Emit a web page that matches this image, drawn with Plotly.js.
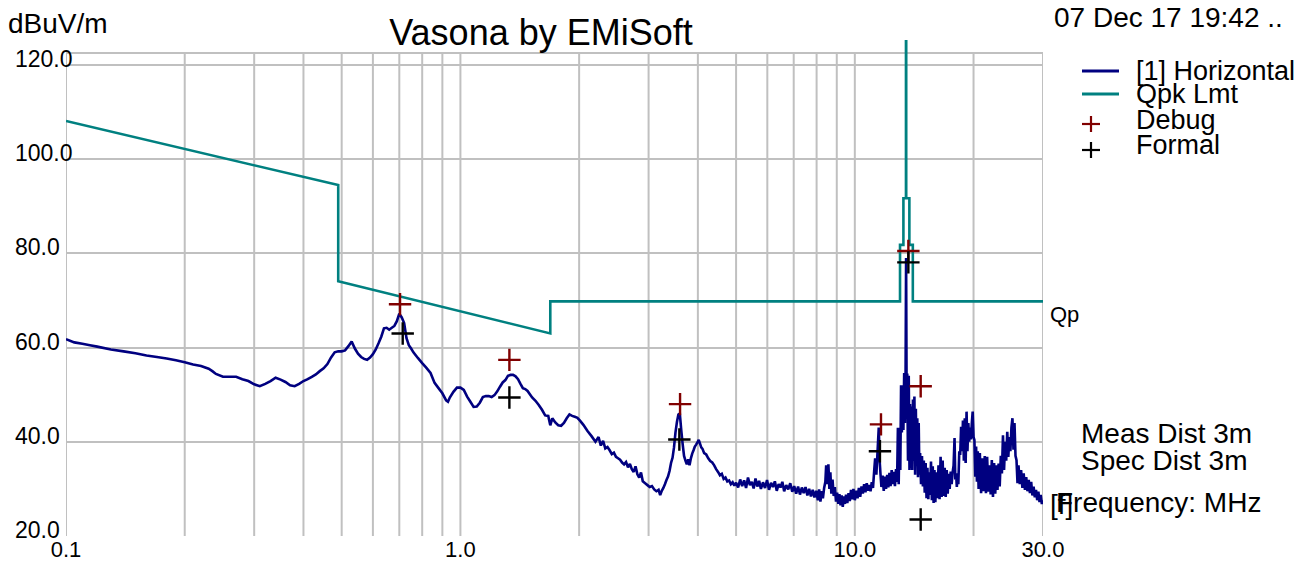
<!DOCTYPE html>
<html>
<head>
<meta charset="utf-8">
<script src="https://cdn.plot.ly/plotly-3.0.1.min.js"></script>
<style>
  html, body { margin: 0; padding: 0; background: #ffffff; }
  #chart { width: 1301px; height: 562px; }
</style>
</head>
<body>
<div id="chart"></div>
<script>
// ---------------- data ----------------
const freqMHz = [
  0.100,0.105,0.110,0.115,0.120,0.130,0.140,0.150,0.160,0.170,0.180,0.190,0.200,0.210,0.220,0.230,0.235,0.240,0.250,0.260,
  0.270,0.280,0.290,0.300,0.310,0.320,0.330,0.340,0.350,0.360,0.370,0.380,0.390,0.400,0.410,0.420,0.430,0.440,0.450,0.460,
  0.470,0.480,0.490,0.500,0.510,0.520,0.530,0.540,0.550,0.560,0.570,0.580,0.590,0.600,0.610,0.620,0.630,0.640,0.650,0.660,
  0.670,0.680,0.690,0.700,0.710,0.720,0.730,0.740,0.750,0.760,0.780,0.800,0.820,0.840,0.860,0.880,0.900,0.920,0.930,0.940,
  0.960,0.980,1.000,1.020,1.040,1.060,1.080,1.100,1.120,1.140,1.160,1.180,1.200,1.220,1.240,1.260,1.280,1.300,1.320,1.340,
  1.360,1.380,1.400,1.420,1.440,1.460,1.480,1.500,1.520,1.550,1.580,1.610,1.640,1.670,1.690,1.710,1.740,1.770,1.800,1.830,
  1.860,1.890,1.920,1.950,1.980,2.010,2.050,2.100,2.150,
  2.20,2.24,2.27,2.30,2.33,2.36,2.39,2.42,2.45,2.48,2.51,2.54,2.57,2.60,2.63,2.66,2.69,2.72,2.75,2.78,
  2.81,2.84,2.87,2.90,2.94,2.98,3.02,3.06,3.10,3.14,3.18,3.21,3.24,3.27,3.30,3.33,3.36,3.39,3.42,3.45,
  3.48,3.51,3.54,3.57,3.60,3.63,3.66,3.69,3.72,3.75,3.78,3.81,3.84,3.87,3.90,3.93,3.96,3.99,4.02,4.05,
  4.08,4.11,4.15,4.20,4.25,4.30,4.35,4.40,4.45,4.50,4.55,4.60,4.65,4.70,4.75,4.80,4.85,4.90,4.95,5.00,
  5.06,5.12,5.18,5.24,5.30,5.36,5.42,5.48,5.54,5.60,5.66,5.72,5.78,5.85,5.92,5.99,6.06,6.13,6.20,6.27,
  6.34,6.41,6.48,6.55,6.62,6.70,6.78,6.86,6.94,7.02,7.10,7.18,7.26,7.34,7.42,7.50,7.58,7.66,7.74,7.82,
  7.90,7.98,8.06,8.12,8.18,8.24,8.30,8.36,8.42,8.46,8.52,8.57,8.62,8.67,8.72,8.78,8.84,8.90,8.96,9.02,
  9.08,9.14,9.20,9.26,9.32,9.38,9.44,9.50,9.57,9.64,9.71,9.78,9.85,9.92,10.00,10.08,10.16,10.24,10.32,10.40,
  10.48,10.56,10.64,10.72,10.80,10.88,10.96,11.04,11.12,11.20,11.26,11.34,11.42,11.50,11.56,11.62,11.68,11.76,11.84,11.92,
  12.00,12.08,12.16,12.24,12.32,12.40,12.48,12.56,12.64,12.72,12.80,12.86,12.92,12.98,13.04,13.10,13.16,13.22,13.28,13.34,
  13.40,13.45,13.49,13.53,13.58,13.64,13.70,13.76,13.80,13.86,13.92,13.98,14.04,14.10,14.16,14.22,14.28,14.34,14.40,14.46,
  14.52,14.58,14.64,14.72,14.80,14.88,14.96,15.04,15.12,15.20,15.28,15.36,15.44,15.52,15.60,15.68,15.76,15.84,15.92,16.00,
  16.10,16.20,16.30,16.40,16.50,16.60,16.70,16.80,16.90,17.00,17.10,17.20,17.30,17.40,17.50,17.60,17.70,17.80,17.90,17.98,
  18.06,18.14,18.22,18.30,18.40,18.50,18.60,18.70,18.80,18.90,19.00,19.10,19.20,19.30,19.40,19.50,19.60,19.70,19.80,19.90,
  20.00,20.10,20.20,20.30,20.40,20.50,20.60,20.75,20.90,21.05,21.20,21.35,21.50,21.65,21.80,21.95,22.10,22.25,22.40,22.55,
  22.70,22.85,23.00,23.15,23.30,23.45,23.60,23.75,23.90,24.05,24.20,24.35,24.50,24.65,24.80,24.95,25.10,25.25,25.40,25.55,
  25.70,25.85,26.00,26.20,26.40,26.60,26.80,27.00,27.20,27.40,27.60,27.80,28.00,28.20,28.40,28.60,28.80,29.00,29.20,29.40,
  29.60,29.80,30.00
];
const levelDbuv = [
  61.8,61.1,60.8,60.5,60.2,59.6,59.2,58.8,58.3,58.0,57.7,57.3,56.9,56.4,56.1,55.5,55.0,54.4,53.8,53.8,
  53.8,53.3,52.9,52.2,51.8,52.3,52.9,53.6,53.2,52.7,52.0,51.8,52.3,52.9,53.3,53.8,54.3,55.0,55.6,56.5,
  57.9,59.0,59.2,59.2,59.4,60.3,61.3,59.8,58.7,58.0,57.6,57.4,57.9,58.6,59.6,60.9,62.3,64.1,64.2,63.8,
  64.2,64.6,65.6,67.2,66.4,65.2,62.0,60.5,59.8,59.0,57.8,56.7,55.7,54.6,52.5,51.4,50.3,48.8,48.5,49.4,
  50.6,51.5,51.5,51.0,49.6,48.5,47.4,47.5,48.3,49.5,49.7,49.7,49.5,49.9,50.7,51.7,52.6,53.1,54.0,54.2,
  54.2,53.9,53.3,52.3,51.4,51.2,50.8,50.1,49.4,48.7,47.8,46.8,45.6,45.5,43.5,45.0,44.1,43.5,43.4,44.0,
  45.0,45.8,45.5,45.3,45.1,44.5,43.6,42.3,41.2,
  40.0,41.0,39.2,40.2,38.6,38.9,38.2,37.4,37.7,36.8,36.5,36.2,35.6,35.2,35.7,34.6,35.3,34.2,33.6,34.8,
  33.1,32.4,33.5,31.6,31.2,30.8,30.4,30.6,29.9,29.5,29.8,28.7,29.6,30.2,31.0,31.9,32.6,33.8,35.5,36.6,
  38.8,42.0,44.2,45.8,46.0,42.5,39.5,37.0,36.0,35.2,36.3,35.0,36.5,37.5,38.2,39.0,39.4,39.9,40.4,39.6,
  38.8,38.5,37.6,37.3,36.5,35.9,35.6,35.0,34.2,33.6,32.9,33.2,32.1,32.4,31.6,31.8,31.0,31.4,30.7,31.3,
  30.3,32.0,30.6,31.8,30.2,32.4,30.8,31.5,30.1,32.2,30.5,31.7,30.0,31.4,30.2,31.9,29.8,31.3,30.4,31.6,
  29.6,31.0,30.3,31.5,29.5,30.8,29.9,31.2,29.4,30.6,29.0,30.5,28.8,30.3,29.1,30.4,28.6,30.0,28.4,29.8,
  28.2,29.6,27.6,29.9,27.3,29.5,28.0,30.2,31.5,35.0,31.0,35.2,30.0,33.5,29.0,32.0,28.5,30.4,27.3,29.2,
  26.8,28.9,26.5,28.6,26.2,28.4,26.8,28.8,27.0,29.1,27.4,29.8,27.8,30.0,27.6,29.6,28.0,30.2,28.3,30.5,
  29.0,31.0,29.3,31.2,29.6,30.8,29.5,31.4,30.2,34.0,36.5,33.0,38.0,43.0,36.0,33.0,30.4,32.8,29.6,32.6,
  30.0,33.0,30.3,33.4,30.6,34.0,31.0,33.6,30.6,34.2,31.5,43.0,31.0,43.0,34.0,52.0,42.0,52.0,42.5,54.6,
  44.0,54.6,79.0,50.0,54.5,36.0,54.0,34.0,48.0,34.5,47.5,34.0,49.0,36.0,49.6,33.0,47.0,35.0,45.0,32.5,
  44.0,33.0,37.6,31.0,37.0,30.5,36.0,29.2,35.5,28.0,34.5,27.8,33.5,28.7,35.8,27.6,34.8,27.0,34.0,27.2,
  33.5,28.0,35.0,27.8,36.8,28.3,36.0,28.5,34.5,28.3,34.0,29.0,33.2,30.0,33.7,31.0,33.5,35.0,40.8,32.0,
  33.3,30.4,33.0,31.0,38.0,37.2,43.2,38.0,44.5,36.0,45.0,35.5,46.4,38.0,44.0,40.0,43.0,40.5,44.0,46.4,
  41.0,40.4,32.6,39.0,31.5,38.0,30.0,37.6,29.1,36.5,29.5,37.0,29.1,36.8,29.4,35.0,28.8,36.1,28.3,35.5,
  29.0,35.0,29.8,35.4,30.5,37.0,33.3,41.4,34.0,40.0,36.0,42.1,36.8,41.0,38.0,43.0,45.0,38.3,44.0,37.0,
  36.1,31.2,35.0,31.0,34.0,30.2,33.3,29.8,32.5,29.5,31.9,29.1,31.5,28.6,30.5,28.2,29.8,27.6,29.4,27.2,
  28.7,26.8,27.6
];

// Quasi-peak limit line
const limitFreqMHz = [0.1, 0.49, 0.49, 1.69, 1.69, 13.02, 13.02, 13.28, 13.28, 13.48, 13.48, 13.50, 13.50, 13.75, 13.75, 14.03, 14.03, 30.0];
const limitDbuv    = [108.1, 94.5, 74.1, 63.0, 69.8, 69.8, 81.8, 81.8, 91.7, 91.7, 126.0, 126.0, 91.7, 91.7, 81.8, 81.8, 69.8, 69.8];

// Peak markers
const debugFreqMHz  = [0.703, 1.331, 3.605, 11.65, 13.67, 14.69];
const debugDbuv     = [69.2, 57.4, 48.0, 43.7, 80.5, 51.8];
const formalFreqMHz = [0.714, 1.331, 3.59, 11.58, 13.67, 14.69];
const formalDbuv    = [63.0, 49.4, 40.5, 38.0, 78.1, 23.5];

// Axes
const xTickVals = [0.1, 1, 10, 30];
const xTickText = ['0.1', '1.0', '10.0', '30.0'];
const yTickVals = [20, 40, 60, 80, 100, 120];
const yTickText = ['20.0', '40.0', '60.0', '80.0', '100.0', '120.0'];
const gridFreqs = [0.1,0.2,0.3,0.4,0.5,0.6,0.7,0.8,0.9,1,2,3,4,5,6,7,8,9,10,20,30];

// Texts
const titleText = 'Vasona by EMiSoft';
const unitText = 'dBuV/m';
const dateText = '07 Dec 17 19:42 ..';
const legendNames = ['[1] Horizontal', 'Qpk Lmt', 'Debug', 'Formal'];
const sideNotes = ['Meas Dist 3m', 'Spec Dist 3m'];
const limitTag = 'Qp';
const freqTag = 'Frequency: MHz';
const freqTagPrefix = '[f]';

// ---------------- styling ----------------
const FONT = 'Liberation Sans, Arial, sans-serif';
const NAVY = '#000080';
const TEAL = '#008080';
const GRID = '#c0c0c0';
const DEBUG = '#800000';
const FORMAL = '#000000';

const Y_RANGE = [20, 125.3];
const Y_TOP_BORDER = 122.55;

// pixel helpers for paper coordinates (plot area: x 66..1043, y 40..536)
const PX = v => (v - 66) / 977;
const PY = v => (536 - v) / 496;

const traces = [
  {
    x: freqMHz, y: levelDbuv, type: 'scatter', mode: 'lines', name: legendNames[0],
    line: { color: NAVY, width: 2.6, simplify: false }, showlegend: false, hoverinfo: 'x+y'
  },
  {
    x: limitFreqMHz, y: limitDbuv, type: 'scatter', mode: 'lines', name: legendNames[1],
    line: { color: TEAL, width: 2.6, simplify: false }, showlegend: false
  },
  {
    x: debugFreqMHz, y: debugDbuv, type: 'scatter', mode: 'markers', name: legendNames[2],
    marker: { symbol: 'cross-thin', size: 16, line: { color: DEBUG, width: 2.4 }, color: DEBUG },
    showlegend: false, cliponaxis: false
  },
  {
    x: formalFreqMHz, y: formalDbuv, type: 'scatter', mode: 'markers', name: legendNames[3],
    marker: { symbol: 'cross-thin', size: 16, line: { color: FORMAL, width: 2.4 }, color: FORMAL },
    showlegend: false, cliponaxis: false
  }
];

const shapes = [];
gridFreqs.forEach(f => {
  shapes.push({ type: 'line', xref: 'x', yref: 'y', x0: f, x1: f, y0: Y_RANGE[0], y1: Y_TOP_BORDER,
    line: { color: GRID, width: 2 }, layer: 'below' });
});
shapes.push({ type: 'line', xref: 'paper', yref: 'y', x0: 0, x1: 1, y0: Y_TOP_BORDER, y1: Y_TOP_BORDER,
  line: { color: GRID, width: 2 }, layer: 'below' });

// manual legend
const legendLineY = [71, 94];
const legendColors = [NAVY, TEAL];
legendLineY.forEach((py, i) => {
  shapes.push({ type: 'line', xref: 'paper', yref: 'paper', x0: PX(1082), x1: PX(1119), y0: PY(py), y1: PY(py),
    line: { color: legendColors[i], width: 3 } });
});
const plusY = [124, 150];
const plusColors = [DEBUG, FORMAL];
plusY.forEach((py, i) => {
  shapes.push({ type: 'line', xref: 'paper', yref: 'paper', x0: PX(1082), x1: PX(1100), y0: PY(py), y1: PY(py),
    line: { color: plusColors[i], width: 2.2 } });
  shapes.push({ type: 'line', xref: 'paper', yref: 'paper', x0: PX(1091), x1: PX(1091), y0: PY(py - 8), y1: PY(py + 8),
    line: { color: plusColors[i], width: 2.2 } });
});

const annotations = [];
yTickVals.forEach((v, i) => {
  annotations.push({ text: yTickText[i], xref: 'paper', yref: 'y', x: PX(13), y: v, xanchor: 'left', yanchor: 'middle',
    yshift: 6, showarrow: false, font: { family: FONT, size: 23, color: '#000' } });
});
function note(text, px, py, size) {
  annotations.push({ text: text, xref: 'paper', yref: 'paper', x: PX(px), y: PY(py), xanchor: 'left', yanchor: 'middle',
    showarrow: false, font: { family: FONT, size: size, color: '#000' } });
}
note(unitText, 6, 23, 28);
note(dateText, 1052, 18, 28);
note(legendNames[0], 1134, 71, 27);
note(legendNames[1], 1134, 94, 27);
note(legendNames[2], 1134, 120, 27);
note(legendNames[3], 1134, 145, 27);
note(limitTag, 1048, 314, 22);
note(sideNotes[0], 1079, 433, 28);
note(sideNotes[1], 1079, 460, 28);
note(freqTag, 1054, 502, 28);
note(freqTagPrefix, 1048, 504, 28);

const layout = {
  width: 1301, height: 562,
  margin: { l: 66, r: 258, t: 40, b: 26, pad: 0 },
  paper_bgcolor: '#ffffff', plot_bgcolor: '#ffffff',
  showlegend: false,
  title: { text: titleText, x: 541 / 1301, xanchor: 'center', y: 1 - 32.5 / 562, yanchor: 'middle',
    font: { family: FONT, size: 36, color: '#000' } },
  xaxis: {
    type: 'log', range: [Math.log10(0.1), Math.log10(30)],
    tickvals: xTickVals, ticktext: xTickText, ticks: '', showgrid: false, zeroline: false, showline: false,
    ticklabelstandoff: -2,
    tickfont: { family: FONT, size: 22, color: '#000' }
  },
  yaxis: {
    range: Y_RANGE, tickvals: yTickVals, showticklabels: false, ticks: '',
    showgrid: true, gridcolor: GRID, gridwidth: 2, zeroline: false, showline: false
  },
  shapes: shapes,
  annotations: annotations
};

Plotly.newPlot('chart', traces, layout, { displayModeBar: false, staticPlot: true });
</script>
</body>
</html>
